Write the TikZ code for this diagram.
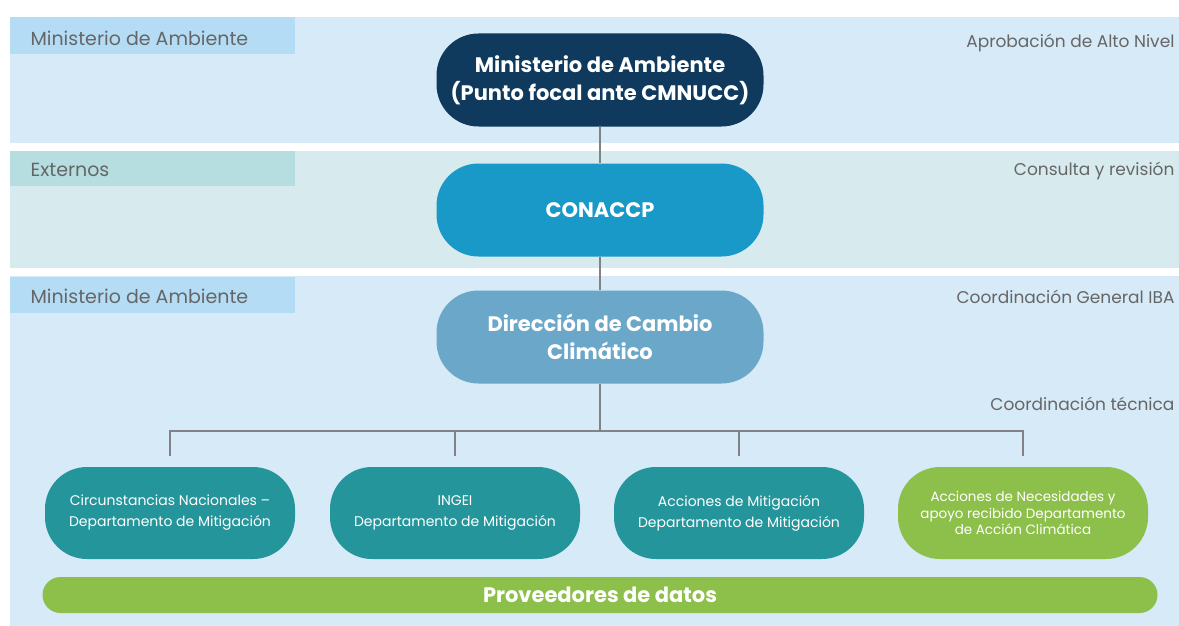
\documentclass[tikz,border=0pt]{standalone}
\usepackage{fontspec}
\setmainfont{Poppins}
\usetikzlibrary{positioning}
\definecolor{bandblue}{HTML}{D6EAF8}
\definecolor{tabblue}{HTML}{B5DCF5}
\definecolor{bandgreen}{HTML}{D7EBEE}
\definecolor{tabgreen}{HTML}{B6DDE0}
\definecolor{navy}{HTML}{0F3A5E}
\definecolor{sky}{HTML}{1899C7}
\definecolor{steel}{HTML}{6BA7C9}
\definecolor{teal}{HTML}{24959B}
\definecolor{leaf}{HTML}{8DC04A}
\definecolor{linegray}{HTML}{808285}
\definecolor{textgray}{HTML}{666666}
\begin{document}
\begin{tikzpicture}[x=1pt,y=-1pt,
  level/.style={text=white,font=\fontsize{21}{28}\selectfont\bfseries,align=center,
    minimum width=327pt,minimum height=93pt,rounded corners=42pt},
  unit/.style={text=white,font=\fontsize{14}{21}\selectfont,align=center,
    minimum width=250pt,minimum height=92pt,rounded corners=42pt},
  tab/.style={text=textgray,font=\fontsize{19}{22}\selectfont,anchor=west},
  role/.style={text=textgray,font=\fontsize{17}{20}\selectfont,anchor=east},
  link/.style={linegray,line width=1.5pt}]
  \useasboundingbox[fill=white] (0,0) rectangle (1179,626);

  %bands
  \fill[bandblue] (10,17) rectangle (1179,143);
  \fill[tabblue] (10,17) rectangle (295,54);
  \fill[bandgreen] (10,151) rectangle (1179,268);
  \fill[tabgreen] (10,151) rectangle (295,186);
  \fill[bandblue] (10,276) rectangle (1179,626);
  \fill[tabblue] (10,277) rectangle (295,313);

  %left labels
  \node[tab] (t1) at (27,38) {Ministerio de Ambiente};
  \node[tab] (t2) at (27,170) {Externos};
  \node[tab] (t3) at (27,296) {Ministerio de Ambiente};

  %right labels
  \node[role] (r1) at (1178,43) {Aprobación de Alto Nivel};
  \node[role] (r2) at (1178,171) {Consulta y revisión};
  \node[role] (r3) at (1178,297) {Coordinación General IBA};
  \node[role] (r4) at (1178,404) {Coordinación técnica};

  %levels
  \node[level,fill=navy] (mina) at (600,80) {Ministerio de Ambiente\\(Punto focal ante CMNUCC)};
  \node[level,fill=sky] (conaccp) at (600,210) {CONACCP};
  \node[level,fill=steel] (dcc) at (600,337) {Dirección de Cambio\\Climático};

  %units
  \node[unit,fill=teal] (circ) at (170,513) {Circunstancias Nacionales --\\Departamento de Mitigación};
  \node[unit,fill=teal] (ingei) at (455,513) {INGEI\\Departamento de Mitigación};
  \node[unit,fill=teal] (accm) at (739,513) {Acciones de Mitigación\\Departamento de Mitigación};
  \node[unit,fill=leaf,font=\fontsize{13.5}{16.5}\selectfont] (necs) at (1023,513) {Acciones de Necesidades y\\apoyo recibido Departamento\\de Acción Climática};

  %data
  \node[fill=leaf,text=white,font=\fontsize{21}{24}\selectfont\bfseries,
    minimum width=1115pt,minimum height=36pt,rounded corners=18pt] (datos) at (600,595) {Proveedores de datos};

  %links
  \draw[link] (mina) -- (conaccp);
  \draw[link] (conaccp) -- (dcc);
  \coordinate (bus) at (600,431);
  \draw[link] (dcc) -- (bus);
  \draw[link] ([yshift=11pt]circ.north) -- (circ.north |- bus) -- (necs.north |- bus) -- ([yshift=11pt]necs.north);
  \draw[link] (ingei.north |- bus) -- ([yshift=11pt]ingei.north);
  \draw[link] (accm.north |- bus) -- ([yshift=11pt]accm.north);
\end{tikzpicture}
\end{document}
